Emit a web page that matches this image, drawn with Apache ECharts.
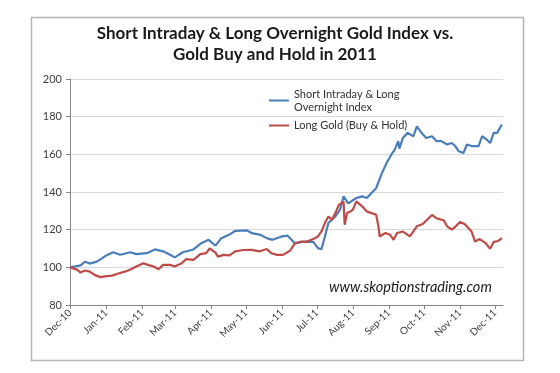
<!DOCTYPE html>
<html>
<head>
<meta charset="utf-8">
<script src="https://cdn.jsdelivr.net/npm/echarts@6/dist/echarts.min.js"></script>
<style>
html,body{margin:0;padding:0;background:#fff;}
#chart{width:560px;height:373px;}
</style>
</head>
<body>
<div id="chart"></div>
<script>
const blueName = 'Short Intraday & Long Overnight Index';
const redName = 'Long Gold (Buy & Hold)';

const blueDates = ['2010-12-01','2010-12-10','2010-12-14','2010-12-18','2010-12-24','2011-01-02','2011-01-07','2011-01-13','2011-01-22','2011-01-27','2011-02-05','2011-02-12','2011-02-19','2011-02-25','2011-03-01','2011-03-08','2011-03-17','2011-03-23','2011-03-30','2011-04-05','2011-04-10','2011-04-17','2011-04-22','2011-05-02','2011-05-07','2011-05-13','2011-05-19','2011-05-24','2011-06-01','2011-06-06','2011-06-12','2011-06-19','2011-06-28','2011-07-02','2011-07-05','2011-07-08','2011-07-11','2011-07-17','2011-07-21','2011-07-24','2011-07-28','2011-08-04','2011-08-09','2011-08-13','2011-08-17','2011-08-21','2011-08-26','2011-08-30','2011-09-03','2011-09-06','2011-09-09','2011-09-10','2011-09-13','2011-09-17','2011-09-22','2011-09-25','2011-09-29','2011-10-03','2011-10-08','2011-10-12','2011-10-16','2011-10-21','2011-10-25','2011-10-28','2011-10-31','2011-11-04','2011-11-07','2011-11-11','2011-11-17','2011-11-20','2011-11-24','2011-11-27','2011-11-30','2011-12-03','2011-12-07'];
const blueValues = [100,101,103,102,103,106.6,108,106.7,108,107,107.5,109.5,108.5,106.7,105.3,108,109.5,112.5,114.6,111.5,115.5,117.4,119.4,119.6,118,117.4,115.5,114.6,116.4,116.8,112.9,113.5,113.5,110.2,109.6,116.4,123.5,127,130.6,137.7,134,136.8,137.7,136.8,139.5,142,150,155.4,159.8,162.5,167,163,168.7,171.4,169.6,174.9,171.4,168.7,169.6,167,167,165.2,166,164.4,161.6,160.7,165.2,164.4,164.4,169.6,167.8,166,171.4,171.4,175.8];

const redDates = ['2010-12-01','2010-12-07','2010-12-10','2010-12-14','2010-12-18','2010-12-22','2010-12-27','2010-12-31','2011-01-06','2011-01-11','2011-01-17','2011-01-22','2011-01-27','2011-02-02','2011-02-06','2011-02-11','2011-02-15','2011-02-19','2011-02-25','2011-03-01','2011-03-07','2011-03-11','2011-03-17','2011-03-23','2011-03-28','2011-03-31','2011-04-05','2011-04-07','2011-04-12','2011-04-17','2011-04-22','2011-04-29','2011-05-06','2011-05-13','2011-05-19','2011-05-23','2011-05-28','2011-06-02','2011-06-08','2011-06-12','2011-06-17','2011-06-22','2011-06-28','2011-07-02','2011-07-05','2011-07-08','2011-07-11','2011-07-14','2011-07-17','2011-07-20','2011-07-22','2011-07-24','2011-07-25','2011-07-27','2011-07-30','2011-08-01','2011-08-04','2011-08-06','2011-08-09','2011-08-13','2011-08-17','2011-08-21','2011-08-23','2011-08-24','2011-08-29','2011-09-02','2011-09-05','2011-09-08','2011-09-13','2011-09-19','2011-09-25','2011-09-30','2011-10-08','2011-10-12','2011-10-18','2011-10-21','2011-10-25','2011-10-28','2011-11-01','2011-11-05','2011-11-11','2011-11-14','2011-11-18','2011-11-23','2011-11-27','2011-11-30','2011-12-04','2011-12-07'];
const redValues = [100,98.8,97.2,98.3,97.7,96,94.8,95.2,95.6,96.6,97.7,98.9,100.4,102.2,101.3,100.4,99,101.3,101.3,100.4,102.2,104.4,104,107,107.5,110,107.8,105.7,106.6,106.3,108.5,109.2,109.3,108.5,109.7,107.5,106.6,106.6,108.8,112.5,113.6,113.6,115,116.4,119,123.5,127,125.3,128.8,133.2,134,134.9,122.6,128.8,129.7,130.6,135,134,132.4,129.7,128.8,128,121.8,116.4,118.2,117.3,114.6,118.2,119,116.4,121.8,123,127.8,126,125,121.8,120,121.5,124,123,119,113.7,115,112.9,109.8,113.5,114,115.5];

const tickDates = ['2010-12-01','2011-01-01','2011-02-01','2011-03-01','2011-04-01','2011-05-01','2011-06-01','2011-07-01','2011-08-01','2011-09-01','2011-10-01','2011-11-01','2011-12-01'];
const tickLabels = ['Dec-10','Jan-11','Feb-11','Mar-11','Apr-11','May-11','Jun-11','Jul-11','Aug-11','Sep-11','Oct-11','Nov-11','Dec-11'];

function toTime(s) {
  const p = s.split('-').map(Number);
  return Date.UTC(p[0], p[1] - 1, p[2]);
}
const tickTimes = tickDates.map(toTime);
const pair = (dates, vals) => dates.map((d, i) => [toTime(d), vals[i]]);

const FONT = 'Lato, "Open Sans", sans-serif';
const chart = echarts.init(document.getElementById('chart'), null, {renderer: 'canvas'});
chart.setOption({
  animation: false,
  backgroundColor: '#ffffff',
  title: {
    text: 'Short Intraday & Long Overnight Gold Index vs.\nGold Buy and Hold in 2011',
    left: 275, top: 23, textAlign: 'center', padding: 0,
    textStyle: {fontFamily: FONT, fontSize: 17, fontWeight: 'bold', color: '#1a1a1a', lineHeight: 21}
  },
  graphic: [
    {type: 'rect', left: 29, top: 15, z: -10, silent: true,
     shape: {width: 492, height: 343},
     style: {fill: 'none', stroke: '#b5b5b5', lineWidth: 1.5}},
    {type: 'text', left: 329, top: 280, silent: true,
     style: {text: 'www.skoptionstrading.com', font: 'italic 14.5px ' + FONT, fill: '#1a1a1a'}}
  ],
  legend: [
    {data: [blueName], left: 269, top: 81, padding: 0, orient: 'vertical',
     icon: 'rect', itemWidth: 20, itemHeight: 2, itemGap: 0,
     formatter: () => 'Short Intraday & Long\nOvernight Index',
     textStyle: {fontFamily: FONT, fontSize: 11, color: '#333', lineHeight: 13, padding: [13, 0, 0, 0]}},
    {data: [redName], left: 269, top: 120, padding: 0, orient: 'vertical',
     icon: 'rect', itemWidth: 20, itemHeight: 2,
     textStyle: {fontFamily: FONT, fontSize: 11, color: '#333'}}
  ],
  grid: {left: 70, right: 57, top: 79, bottom: 68, containLabel: false},
  xAxis: {
    type: 'value',
    min: toTime('2010-12-01'),
    max: toTime('2011-12-08'),
    axisLine: {show: true, lineStyle: {color: '#868686', width: 1}},
    axisTick: {show: true, customValues: tickTimes, length: 4, inside: false, lineStyle: {color: '#868686'}},
    axisLabel: {
      customValues: tickTimes,
      rotate: 45, fontFamily: FONT, fontSize: 10, color: '#404040', margin: 6,
      formatter: (v) => { const i = tickTimes.indexOf(v); return i >= 0 ? tickLabels[i] : ''; }
    },
    splitLine: {show: false}
  },
  yAxis: {
    type: 'value', min: 80, max: 200, interval: 20,
    axisLine: {show: true, lineStyle: {color: '#868686', width: 1}},
    axisTick: {show: true, length: 4, lineStyle: {color: '#868686'}},
    axisLabel: {fontFamily: FONT, fontSize: 11, color: '#404040', margin: 8},
    splitLine: {show: true, lineStyle: {color: '#d9d9d9', width: 1}}
  },
  series: [
    {name: blueName, type: 'line', data: pair(blueDates, blueValues), showSymbol: false, symbol: 'none',
     lineStyle: {color: '#4a7ebb', width: 2.2}, itemStyle: {color: '#4a7ebb'}},
    {name: redName, type: 'line', data: pair(redDates, redValues), showSymbol: false, symbol: 'none',
     lineStyle: {color: '#be4b48', width: 2.2}, itemStyle: {color: '#be4b48'}}
  ]
});
</script>
</body>
</html>
